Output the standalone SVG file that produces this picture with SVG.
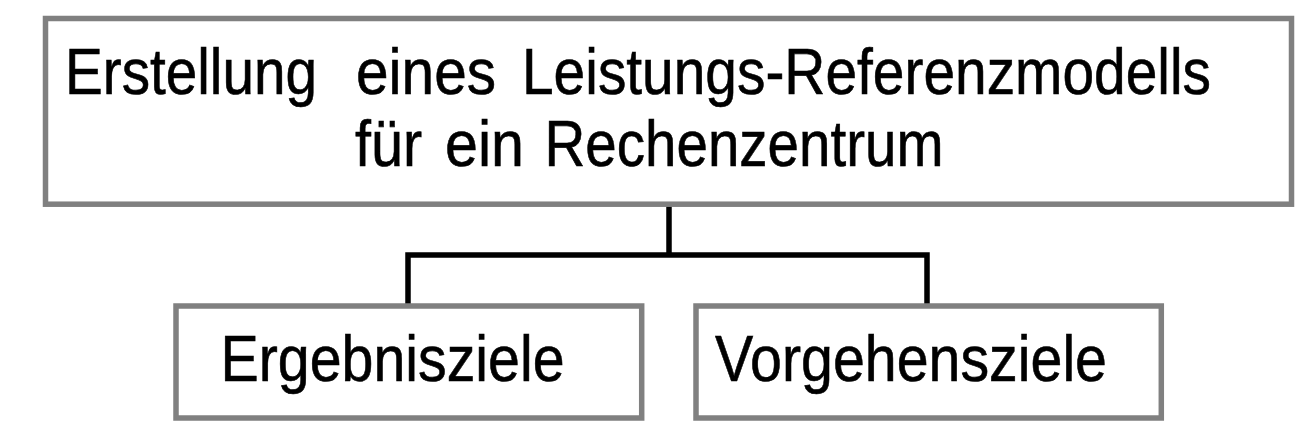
<svg xmlns="http://www.w3.org/2000/svg" width="1314" height="443" viewBox="0 0 1314 443">
<style>
.box{fill:#ffffff;stroke:#808080;stroke-width:5.5}
.lbl{font-family:"Liberation Sans",Arial,sans-serif;font-size:64px;fill:#000000;stroke:#000000;stroke-width:0.6}
.conn{fill:none;stroke:#000000;stroke-width:5.5;stroke-linejoin:miter;stroke-linecap:butt}
</style>
<rect width="1314" height="443" fill="#ffffff"/>
<g id="connectors">
<path class="conn" d="M669,206 V255 M408,304 V255 H927 V304"/>
</g>
<g id="node-root">
<rect class="box" x="45.5" y="18.5" width="1246" height="185.7"/>
<text class="lbl" x="65" y="94" textLength="252" lengthAdjust="spacingAndGlyphs">Erstellung</text>
<text class="lbl" x="356" y="94" textLength="140" lengthAdjust="spacingAndGlyphs">eines</text>
<text class="lbl" x="522" y="94" textLength="689" lengthAdjust="spacingAndGlyphs">Leistungs-Referenzmodells</text>
<text class="lbl" x="355" y="166" textLength="67" lengthAdjust="spacingAndGlyphs">für</text>
<text class="lbl" x="445" y="166" textLength="79" lengthAdjust="spacingAndGlyphs">ein</text>
<text class="lbl" x="544.5" y="166" textLength="399" lengthAdjust="spacingAndGlyphs">Rechenzentrum</text>
</g>
<g id="node-ergebnisziele">
<rect class="box" x="176" y="306" width="465.7" height="112"/>
<text class="lbl" x="220.5" y="380.7" textLength="344" lengthAdjust="spacingAndGlyphs">Ergebnisziele</text>
</g>
<g id="node-vorgehensziele">
<rect class="box" x="696" y="306" width="465.3" height="112"/>
<text class="lbl" x="715" y="380.7" textLength="392" lengthAdjust="spacingAndGlyphs">Vorgehensziele</text>
</g>
</svg>
